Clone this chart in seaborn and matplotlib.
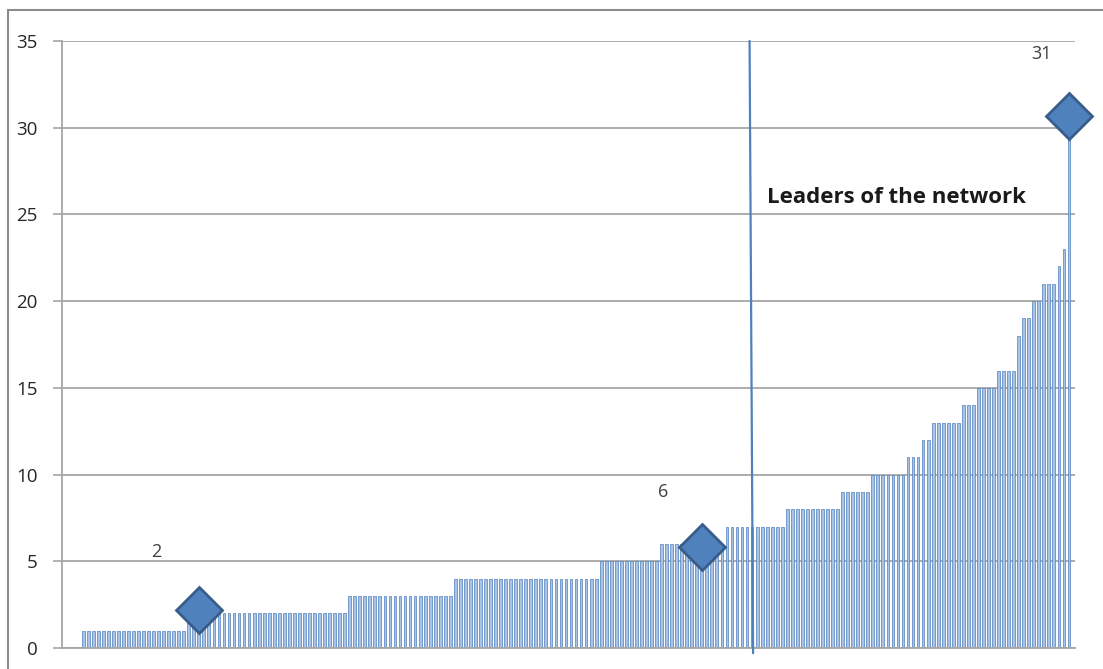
import matplotlib
matplotlib.use("Agg")
import matplotlib.pyplot as plt
from matplotlib.patches import Rectangle
import numpy as np
import pandas as pd
import seaborn as sns

sns.set_theme(style="white")
plt.rcParams["font.family"] = ["Open Sans", "DejaVu Sans"]

# sorted degree values: (value, how many nodes have it)
degree_levels = [1, 2, 3, 4, 5, 6, 7, 8, 9, 10, 11, 12, 13, 14, 15, 16, 18, 19, 20, 21, 22, 23, 31]
level_counts = [21, 32, 21, 29, 12, 13, 12, 11, 6, 7, 3, 2, 6, 3, 4, 4, 1, 2, 2, 3, 1, 1, 1]

# highlighted points (diamonds) and their labels
marker_idx = [23, 123, 196]
marker_val = [2.2, 5.8, 30.7]
marker_labels = ["2", "6", "31"]

leader_idx = 133
leader_text = "Leaders of the network"

degrees = np.repeat(degree_levels, level_counts)
data = pd.DataFrame({"node": np.arange(len(degrees)), "degree": degrees})

fig = plt.figure(figsize=(11.03, 6.69), dpi=100)
ax = fig.add_axes([62 / 1103, 1 - 648 / 669, (1075 - 62) / 1103, (648 - 41) / 669])

sns.barplot(data=data, x="node", y="degree", color="#a9c3e6", saturation=1,
            width=0.55, native_scale=True, edgecolor="#4f81bd", linewidth=0.5, ax=ax)

ax.plot(marker_idx, marker_val, linestyle="none", marker="D", markersize=23,
        markerfacecolor="#4f81bd", markeredgecolor="#385d8a", markeredgewidth=2,
        zorder=5, clip_on=False)
offsets = [(-31, 42), (-28, 40), (-20, 44)]
for x, y, lab, off in zip(marker_idx, marker_val, marker_labels, offsets):
    ax.annotate(lab, (x, y), xytext=off, textcoords="offset points",
                ha="center", va="center", fontsize=13, color="#404040")

ax.plot([leader_idx - 0.5, leader_idx + 0.2], [35, -0.3], color="#4f81bd", lw=1.6,
        zorder=4, clip_on=False)
ax.text(leader_idx + 3, 26, leader_text, fontsize=16, fontweight="bold",
        color="#1a1a1a", ha="left", va="center")

ax.set_xlim(-4.2, 197.2)
ax.set_ylim(0, 35)
ax.set_yticks(range(0, 36, 5))
ax.yaxis.grid(True, color="#a6a6a6", lw=1.3)
ax.set_axisbelow(True)
ax.set_xticks([])
ax.set_xlabel("")
ax.set_ylabel("")
ax.tick_params(axis="y", length=6.5, width=1.2, color="#a6a6a6", pad=11,
               labelsize=13.5, labelcolor="#262626", left=True)
for s in ["top", "right"]:
    ax.spines[s].set_visible(False)
for s in ["left", "bottom"]:
    ax.spines[s].set_color("#a6a6a6")
    ax.spines[s].set_linewidth(1.3)

fig.patches.append(Rectangle((8 / 1103, -0.05), 1.1, 1 - 10 / 669 + 0.05,
                             transform=fig.transFigure, fill=False,
                             edgecolor="#8c8c8c", lw=1.5))

fig.savefig("out.png", dpi=100)
